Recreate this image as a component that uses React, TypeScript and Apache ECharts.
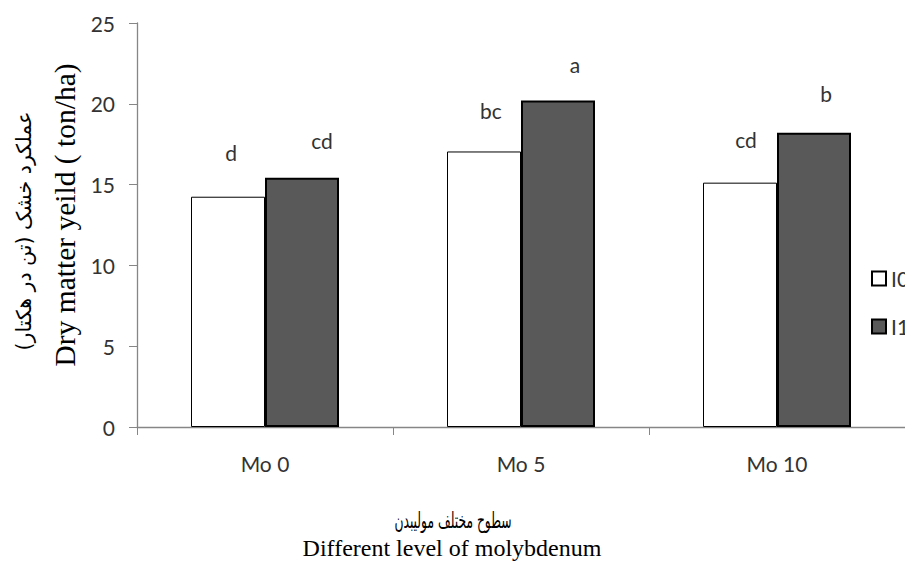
import React, { useEffect, useRef } from "react";
import * as echarts from "echarts";

const categories = ["Mo 0", "Mo 5", "Mo 10"];
const seriesNames = ["I0", "I1"];
const i0Values = [14.25, 17.05, 15.12];
const i1Values = [15.43, 20.2, 18.21];
const i0Letters = ["d", "bc", "cd"];
const i1Letters = ["cd", "a", "b"];
const yMin = 0;
const yMax = 25;
const yInterval = 5;

const yTitleFa = "عملکرد خشک (تن در هکتار)";
const yTitleEn = "Dry matter yeild ( ton/ha)";
const xTitleFa = "سطوح مختلف مولیبدن";
const xTitleEn = "Different level of molybdenum";

// label layout offsets (px), not data
const i0LabelOffsets = [[3, -34], [7, -30], [6, -33]];
const i1LabelOffsets = [[20, -27], [17, -26], [12, -29]];

const SANS = "Lato, 'Open Sans', sans-serif";
const SERIF = "'Liberation Serif', 'DejaVu Serif', serif";
const AXIS = "#868686";
const TXT = "#333333";

export default function App() {
  const ref = useRef<HTMLDivElement>(null);
  useEffect(() => {
    if (!ref.current) return;
    const chart = echarts.init(ref.current, undefined, { renderer: "svg" });
    const mk = (vals: number[], letters: string[], offs: number[][]) =>
      vals.map((v, i) => ({
        value: v,
        label: { formatter: letters[i], offset: offs[i] },
      }));
    const labelBase = {
      show: true,
      position: "top",
      distance: 0,
      fontFamily: SANS,
      fontSize: 21,
      color: TXT,
    };
    chart.setOption({
      animation: false,
      backgroundColor: "#ffffff",
      grid: { left: 137, right: -5, top: 23, bottom: 135, containLabel: false },
      legend: {
        orient: "vertical",
        left: 871,
        top: 268,
        padding: 0,
        itemWidth: 14,
        itemHeight: 14,
        itemGap: 27,
        icon: "rect",
        data: seriesNames,
        textStyle: { fontFamily: SANS, fontSize: 21, color: TXT, lineHeight: 14, padding: [0, 0, 0, 0] },
      },
      xAxis: {
        type: "category",
        data: categories,
        axisLine: { lineStyle: { color: AXIS, width: 1.3 } },
        axisTick: { show: true, length: 8, lineStyle: { color: AXIS } },
        axisLabel: { fontFamily: SANS, fontSize: 21, color: TXT, margin: 26 },
        splitLine: { show: false },
      },
      yAxis: {
        type: "value",
        min: yMin,
        max: yMax,
        interval: yInterval,
        axisLine: { show: true, lineStyle: { color: AXIS, width: 1.3 } },
        axisTick: { show: true, length: 8, lineStyle: { color: AXIS } },
        axisLabel: { fontFamily: SANS, fontSize: 21, color: TXT, margin: 22 },
        splitLine: { show: false },
      },
      series: [
        {
          name: seriesNames[0],
          type: "bar",
          barWidth: 74,
          barGap: "0%",
          itemStyle: { color: "#ffffff", borderColor: "#000000", borderWidth: 1 },
          label: labelBase,
          data: mk(i0Values, i0Letters, i0LabelOffsets),
        },
        {
          name: seriesNames[1],
          type: "bar",
          barWidth: 74,
          barGap: "0%",
          itemStyle: { color: "#595959", borderColor: "#000000", borderWidth: 2 },
          label: labelBase,
          data: mk(i1Values, i1Letters, i1LabelOffsets),
        },
      ],
      graphic: [
        {
          type: "text",
          x: 24,
          y: 231,
          rotation: Math.PI / 2,
          style: {
            text: yTitleFa,
            font: `20.5px 'DejaVu Sans', sans-serif`,
            fill: "#000",
            textAlign: "center",
            textVerticalAlign: "middle",
          },
        },
        {
          type: "text",
          x: 65,
          y: 215,
          rotation: Math.PI / 2,
          style: {
            text: yTitleEn,
            font: `29.5px ${SERIF}`,
            fill: "#000",
            textAlign: "center",
            textVerticalAlign: "middle",
          },
        },
        {
          type: "text",
          x: 453,
          y: 520,
          scaleX: 0.56,
          style: {
            text: xTitleFa,
            font: `22px 'DejaVu Sans', sans-serif`,
            fill: "#000",
            textAlign: "center",
            textVerticalAlign: "middle",
          },
        },
        {
          type: "text",
          x: 452,
          y: 548,
          style: {
            text: xTitleEn,
            font: `24px ${SERIF}`,
            fill: "#000",
            textAlign: "center",
            textVerticalAlign: "middle",
          },
        },
      ],
    });
    return () => chart.dispose();
  }, []);
  return (
    <div
      ref={ref}
      style={{ position: "absolute", left: 0, top: 0, width: 905, height: 562 }}
    />
  );
}
